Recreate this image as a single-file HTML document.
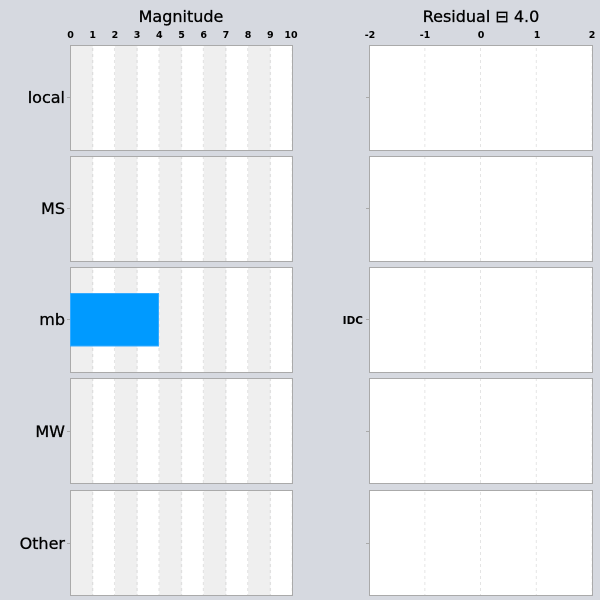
<!DOCTYPE html>
<html><head><style>body{margin:0;background:#d6d9e0}svg{display:block}</style></head><body>
<svg width="600" height="600" xmlns="http://www.w3.org/2000/svg" font-family="DejaVu Sans, Liberation Sans, sans-serif">
<defs>
<pattern id="bands" x="70.5" y="0" width="44.4" height="600" patternUnits="userSpaceOnUse">
<rect x="0" y="0" width="22.2" height="600" fill="#efefef"/>
<rect x="22.2" y="0" width="22.2" height="600" fill="#fff"/>
<line x1="22.2" y1="0" x2="22.2" y2="600" stroke="#d8d8d8" stroke-dasharray="3,3"/>
<line x1="44.2" y1="0" x2="44.2" y2="600" stroke="#d8d8d8" stroke-dasharray="3,3"/>
</pattern>
<pattern id="rgrid" x="369.5" y="0" width="55.75" height="600" patternUnits="userSpaceOnUse">
<rect width="55.75" height="600" fill="#fff"/>
<line x1="55.5" y1="0" x2="55.5" y2="600" stroke="#dcdcdc" stroke-dasharray="3,3"/>
</pattern>
</defs>
<rect width="600" height="600" fill="#d6d9e0"/>
<text x="181" y="22" font-size="16" font-weight="500" text-anchor="middle" stroke="#000" stroke-width="0.3">Magnitude</text>
<text x="481" y="22" font-size="16" text-anchor="middle" stroke="#000" stroke-width="0.3">Residual ⊟  4.0</text>
<g font-size="9.5" font-weight="bold" text-anchor="middle">
<text x="70.5" y="38">0</text><text x="92.7" y="38">1</text><text x="114.9" y="38">2</text><text x="137.1" y="38">3</text><text x="159.3" y="38">4</text><text x="181.5" y="38">5</text><text x="203.7" y="38">6</text><text x="225.9" y="38">7</text><text x="248.1" y="38">8</text><text x="270.3" y="38">9</text><text x="291" y="38">10</text>
<text x="370" y="38">-2</text><text x="425" y="38">-1</text><text x="481" y="38">0</text><text x="537" y="38">1</text><text x="592" y="38">2</text>
</g>
<g stroke="#aaa" stroke-width="1">
<rect x="70.5" y="45.5" width="222" height="105" fill="url(#bands)"/>
<rect x="70.5" y="156.5" width="222" height="105" fill="url(#bands)"/>
<rect x="70.5" y="267.5" width="222" height="105" fill="url(#bands)"/>
<rect x="70.5" y="378.5" width="222" height="105" fill="url(#bands)"/>
<rect x="70.5" y="490.5" width="222" height="105" fill="url(#bands)"/>
<rect x="369.5" y="45.5" width="223" height="105" fill="url(#rgrid)"/>
<rect x="369.5" y="156.5" width="223" height="105" fill="url(#rgrid)"/>
<rect x="369.5" y="267.5" width="223" height="105" fill="url(#rgrid)"/>
<rect x="369.5" y="378.5" width="223" height="105" fill="url(#rgrid)"/>
<rect x="369.5" y="490.5" width="223" height="105" fill="url(#rgrid)"/>
<path d="M67 97.5h3M67 208.5h3M67 319.5h3M67 431.5h3M67 543.5h3M366 97.5h3M366 208.5h3M366 319.5h3M366 431.5h3M366 543.5h3"/>
</g>
<rect x="70.5" y="293.5" width="88" height="52.5" fill="#009aff" stroke="#33aaff"/>
<g font-size="16" text-anchor="end" stroke="#000" stroke-width="0.3">
<text x="65" y="103">local</text><text x="65" y="214">MS</text><text x="65" y="325">mb</text><text x="65" y="437">MW</text><text x="65" y="549">Other</text>
</g>
<text x="363" y="324" font-size="10.5" font-weight="bold" text-anchor="end">IDC</text>
</svg>
</body></html>
